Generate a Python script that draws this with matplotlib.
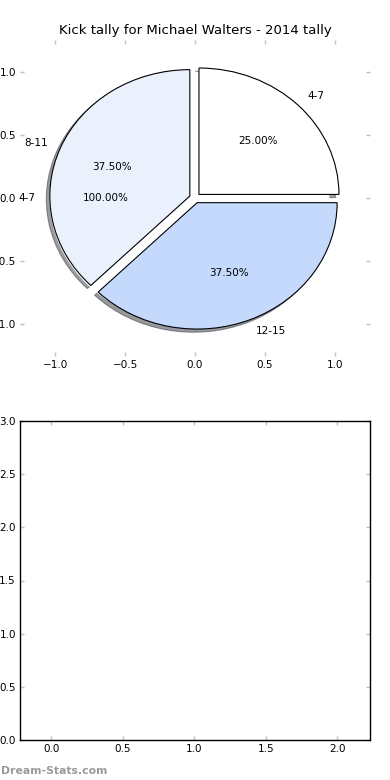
import matplotlib
matplotlib.use("Agg")
import matplotlib.pyplot as plt

title = "Kick tally for Michael Walters - 2014 tally"
total_labels = ["4-7"]
total_values = [8]
slice_labels = ["4-7", "8-11", "12-15"]
slice_values = [2, 3, 3]
slice_colors = ["#ffffff", "#eaf1fd", "#c5d9fc"]
pie_ticks = [-1.0, -0.5, 0.0, 0.5, 1.0]
bar_xticks = [0.0, 0.5, 1.0, 1.5, 2.0]
bar_yticks = [0.0, 0.5, 1.0, 1.5, 2.0, 2.5, 3.0]

FS = 7.5
TICKC = "#c0c0c0"

fig = plt.figure(figsize=(3.9, 7.8), dpi=100)

ax1 = fig.add_axes([20/390, 1-356/780, 350/390, 316/780])
ax1.pie(total_values, labels=total_labels, autopct="%1.2f%%", colors=["white"],
        explode=[0.04], wedgeprops=dict(linewidth=0), textprops=dict(fontsize=FS))
ax1.pie(slice_values, labels=slice_labels, autopct="%1.2f%%", colors=slice_colors,
        explode=[0.04]*3, shadow=dict(ox=-0.018, oy=-0.018, shade=0.75),
        wedgeprops=dict(edgecolor="black", linewidth=0.8), textprops=dict(fontsize=FS))
ax1.set_aspect("auto")
ax1.set_frame_on(False)
ax1.set_xlim(-1.25, 1.25)
ax1.set_ylim(-1.25, 1.25)
ax1.set_xticks(pie_ticks)
ax1.set_yticks(pie_ticks)
ax1.set_title(title, fontsize=9.5, pad=4)

ax2 = fig.add_axes([20/390, 1-740/780, 350/390, 319/780])
ax2.set_xlim(-0.22, 2.23)
ax2.set_ylim(0, 3.0)
ax2.set_xticks(bar_xticks)
ax2.set_yticks(bar_yticks)

for ax in (ax1, ax2):
    ax.tick_params(direction="in", length=3, width=1, color=TICKC, labelsize=FS,
                   top=True, right=True, pad=3)
for s in ax2.spines.values():
    s.set_linewidth(1)

fig.text(0.002, 0.008, "Dream-Stats.com", color="#9a9a9a", fontsize=7.8, fontweight="bold")

fig.savefig("out.png", dpi=100)
